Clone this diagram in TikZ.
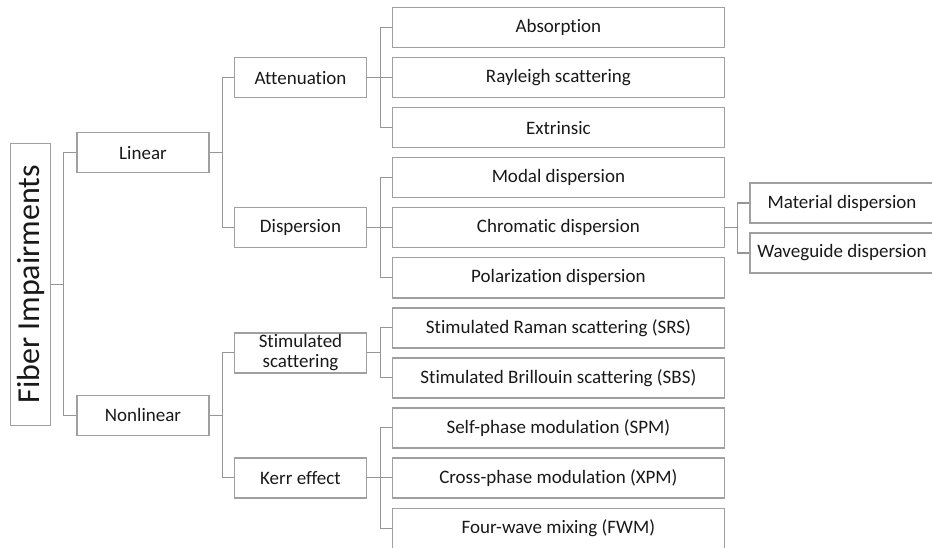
\documentclass[tikz,border=0pt]{standalone}
\usepackage{fontspec}
\setmainfont[Ligatures=CommonOff]{Carlito}
\definecolor{boxgray}{RGB}{160,160,160}
\definecolor{linkgray}{RGB}{150,150,150}
\definecolor{textgray}{RGB}{25,25,25}
\begin{document}
\begin{tikzpicture}[x=1pt,y=-1pt,
	box/.style={draw=boxgray, line width=1.4pt, text=textgray, minimum height=40pt,
		inner sep=0pt, align=center, font=\fontsize{19}{20}\selectfont},
	midbox/.style={box, minimum width=132pt},
	leafbox/.style={box, minimum width=332pt},
	link/.style={draw=linkgray, line width=1.3pt}]
	\useasboundingbox (0,0) rectangle (932,548);
	% Root
	\node[box, rotate=90, minimum width=282pt, minimum height=40pt,
		font=\fontsize{32}{32}\selectfont] (fiber) at (30.5,284.3) {Fiber Impairments};
	% First level
	\node[midbox] (linear) at (143,152.8) {Linear};
	\node[midbox] (nonlinear) at (143,415.3) {Nonlinear};
	% Second level
	\node[midbox] (atten) at (300.5,77.8) {Attenuation};
	\node[midbox] (disp) at (300.5,227.8) {Dispersion};
	\node[midbox] (stim) at (300.5,352.8) {Stimulated\\scattering};
	\node[midbox] (kerr) at (300.5,477.8) {Kerr effect};
	% Third level
	\node[leafbox] (absorp) at (558.4,27.8) {Absorption};
	\node[leafbox] (rayleigh) at (558.4,77.8) {Rayleigh scattering};
	\node[leafbox] (extr) at (558.4,127.8) {Extrinsic};
	\node[leafbox] (modal) at (558.4,177.8) {Modal dispersion};
	\node[leafbox] (chrom) at (558.4,227.8) {Chromatic dispersion};
	\node[leafbox] (polar) at (558.4,277.8) {Polarization dispersion};
	\node[leafbox] (srs) at (558.4,327.8) {Stimulated Raman scattering (SRS)};
	\node[leafbox] (sbs) at (558.4,377.8) {Stimulated Brillouin scattering (SBS)};
	\node[leafbox] (spm) at (558.4,427.8) {Self-phase modulation (SPM)};
	\node[leafbox] (xpm) at (558.4,477.8) {Cross-phase modulation (XPM)};
	\node[leafbox] (fwm) at (558.4,528.5) {Four-wave mixing (FWM)};
	% Chromatic dispersion branches
	\node[box, minimum width=184pt] (mat) at (842,203) {Material dispersion};
	\node[box, minimum width=184pt] (wave) at (842,253) {Waveguide dispersion};
	% Root links
	\draw[link] (fiber.south) -- ++(12.5,0) |- (linear.west);
	\draw[link] (fiber.south) -- ++(12.5,0) |- (nonlinear.west);
	% Linear links
	\draw[link] (linear.east) -- ++(12.5,0) |- (atten.west);
	\draw[link] (linear.east) -- ++(12.5,0) |- (disp.west);
	\draw[link] (atten.east) -- ++(13,0) |- (absorp.west);
	\draw[link] (atten.east) -- ++(13,0) |- (rayleigh.west);
	\draw[link] (atten.east) -- ++(13,0) |- (extr.west);
	\draw[link] (disp.east) -- ++(13,0) |- (modal.west);
	\draw[link] (disp.east) -- ++(13,0) |- (chrom.west);
	\draw[link] (disp.east) -- ++(13,0) |- (polar.west);
	\draw[link] (chrom.east) -- ++(12.5,0) |- (mat.west);
	\draw[link] (chrom.east) -- ++(12.5,0) |- (wave.west);
	% Nonlinear links
	\draw[link] (nonlinear.east) -- ++(12.5,0) |- (stim.west);
	\draw[link] (nonlinear.east) -- ++(12.5,0) |- (kerr.west);
	\draw[link] (stim.east) -- ++(13,0) |- (srs.west);
	\draw[link] (stim.east) -- ++(13,0) |- (sbs.west);
	\draw[link] (kerr.east) -- ++(13,0) |- (spm.west);
	\draw[link] (kerr.east) -- ++(13,0) |- (xpm.west);
	\draw[link] (kerr.east) -- ++(13,0) |- (fwm.west);
\end{tikzpicture}
\end{document}
